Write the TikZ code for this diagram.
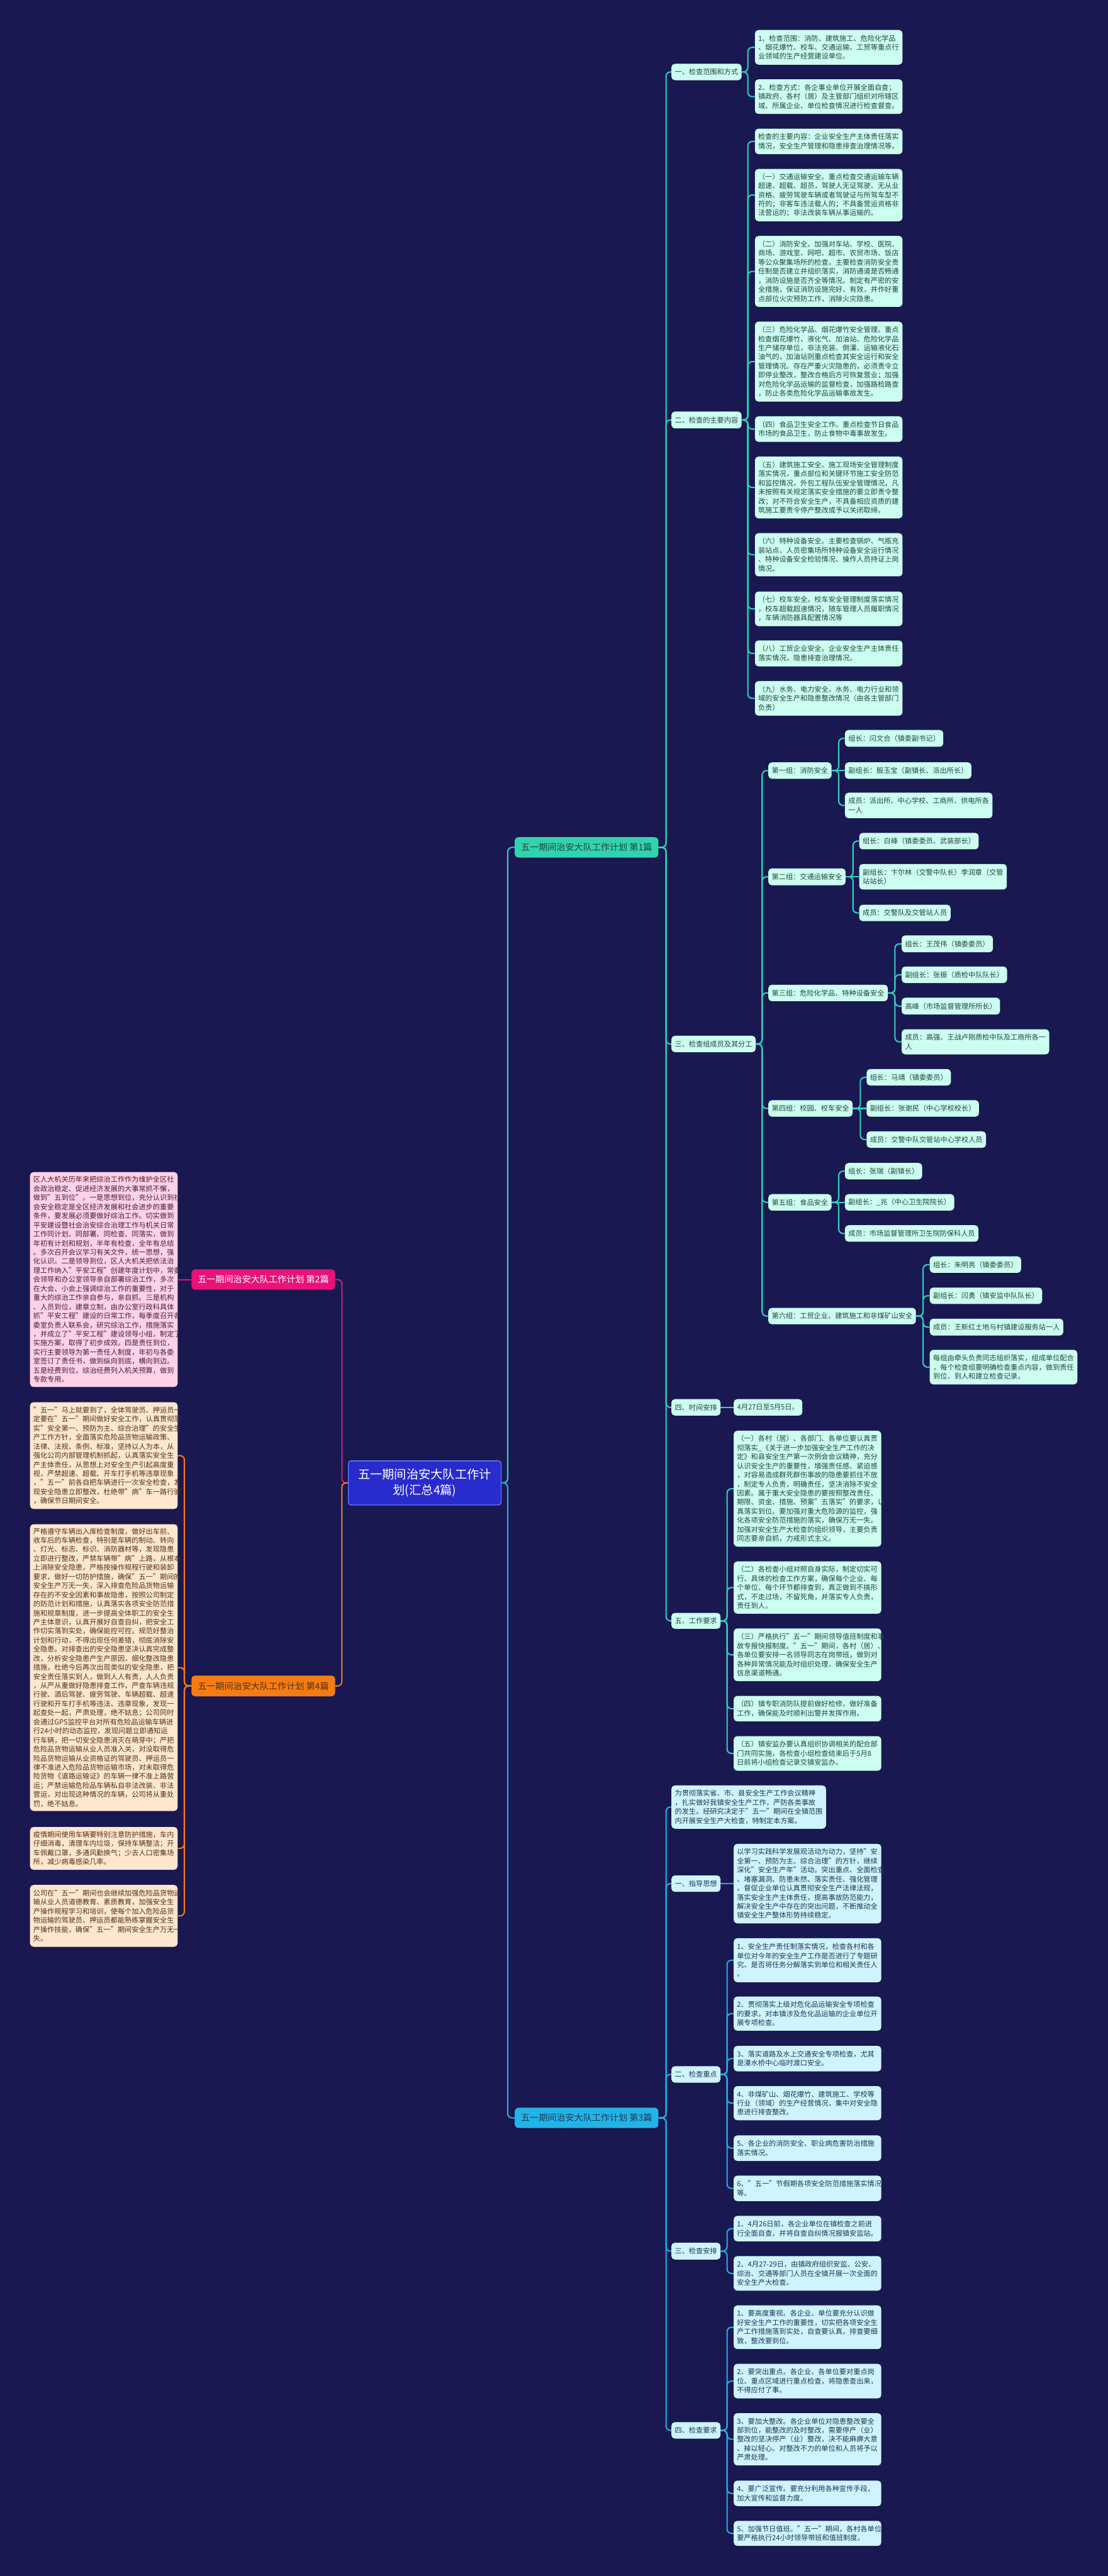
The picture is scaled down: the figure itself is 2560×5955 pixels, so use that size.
\documentclass[tikz,border=0pt]{standalone}
\usepackage{fontspec}
\setmainfont{Noto Sans CJK SC}
\definecolor{bg}{RGB}{25,24,80}
\definecolor{mint}{RGB}{204,255,240}
\definecolor{skyl}{RGB}{206,244,255}
\definecolor{pinkl}{RGB}{255,210,232}
\definecolor{peach}{RGB}{255,230,206}
\definecolor{tealc}{RGB}{42,212,190}
\definecolor{skyc}{RGB}{28,178,232}
\definecolor{magc}{RGB}{232,18,120}
\definecolor{orac}{RGB}{246,124,18}
\definecolor{tealb}{RGB}{48,212,172}
\definecolor{skyb}{RGB}{34,180,232}
\definecolor{cblue}{RGB}{40,44,204}
\definecolor{cbord}{RGB}{96,120,255}
\definecolor{txtm}{RGB}{36,66,62}
\definecolor{txtb}{RGB}{30,56,78}
\definecolor{txtp}{RGB}{70,30,50}
\definecolor{txto}{RGB}{80,50,25}
\newcommand\nodebox[6]{\pgfmathsetmacro\hh{(#5-#4)*0.5}\node[#1,minimum height=\hh pt] (#2) at (#3,#4) {#6};}
\newcommand\conR[4]{\draw[ln,#1] (#2.east) -- (#2.east -| #3) |- (#4.west);}
\newcommand\conL[4]{\draw[ln,#1] (#2.west) -- (#2.west -| #3) |- (#4.east);}
\newcommand\conS[3]{\draw[ln,#1] (#2) -- (#3);}
\tikzset{
 base/.style={rectangle, rounded corners=4pt, anchor=north west, inner xsep=4pt, inner ysep=0pt, align=left, font=\fontsize{8.125pt}{10.5pt}\selectfont},
 lf/.style={base, text width=163pt, inner xsep=3.75pt},
 mt/.style={base, fill=mint, text=txtm},
 sk/.style={base, fill=skyl, text=txtb},
 pk/.style={fill=pinkl, text=txtp},
 pc/.style={fill=peach, text=txto},
 brn/.style={rectangle, rounded corners=4pt, anchor=north west, minimum width=166pt, inner xsep=6pt, inner ysep=0pt, align=center, font=\fontsize{10.25pt}{12pt}\selectfont},
 central/.style={rectangle, rounded corners=3pt, anchor=north west, fill=cblue, draw=cbord, line width=1pt, text=white, align=center, text width=156pt, inner xsep=10.25pt, minimum height=51pt, font=\fontsize{14pt}{18.25pt}\selectfont},
 ln/.style={line width=1.5pt, rounded corners=5pt}
}
\begin{document}
\begin{tikzpicture}[x=0.5pt,y=-0.5pt]
\fill[bg] (0,0) rectangle (2560,5955);
\useasboundingbox (0,0) rectangle (2560,5955);

% spines
\coordinate (SL) at (790,0);
\coordinate (SR) at (1173,0);
\coordinate (S1) at (1539,0);
\coordinate (Sa) at (1728,0);
\coordinate (Sg) at (1761,0);
\coordinate (Sg1) at (1938,0);
\coordinate (Sg2) at (1971,0);
\coordinate (Sg3) at (2068,0);
\coordinate (Sg4) at (1988,0);
\coordinate (Sg6) at (2133,0);
\coordinate (Se) at (1680,0);
\coordinate (S4) at (426,0);

% central and branches
\node[central] (c) at (804,3376) {五一期间治安大队工作计\\划(汇总4篇)};
\nodebox{brn,fill=tealb,text=txtm}{b1}{1189}{1935}{1982}{五一期间治安大队工作计划 第1篇}
\nodebox{brn,fill=skyb,text=txtb}{b3}{1189}{4872}{4919}{五一期间治安大队工作计划 第3篇}
\nodebox{brn,fill=magc,text=white}{b2}{442}{2934}{2981}{五一期间治安大队工作计划 第2篇}
\nodebox{brn,fill=orac,text=txto}{b4}{442}{3873}{3921}{五一期间治安大队工作计划 第4篇}

% ---------- 第1篇 ----------
\nodebox{mt}{a1}{1551}{147}{185}{一、检查范围和方式}
\nodebox{mt}{a2}{1551}{951}{990}{二、检查的主要内容}
\nodebox{mt}{a3}{1551}{2394}{2432}{三、检查组成员及其分工}
\nodebox{mt}{a4}{1551}{3234}{3272}{四、时间安排}
\nodebox{mt}{a5}{1551}{3728}{3765}{五、工作要求}

\nodebox{mt,lf}{x11}{1744}{69}{149}{1、检查范围：消防、建筑施工、危险化学品\\、烟花爆竹、校车、交通运输、工贸等重点行\\业领域的生产经营建设单位。}
\nodebox{mt,lf}{x12}{1744}{183}{263}{2、检查方式：各企事业单位开展全面自查；\\镇政府、各村（居）及主管部门组织对所辖区\\域、所属企业、单位检查情况进行检查督查。}

\nodebox{mt,lf}{x20}{1744}{297}{356}{检查的主要内容：企业安全生产主体责任落实\\情况，安全生产管理和隐患排查治理情况等。}
\nodebox{mt,lf}{x21}{1744}{390}{511}{（一）交通运输安全。重点检查交通运输车辆\\超速、超载、超员，驾驶人无证驾驶、无从业\\资格、疲劳驾驶车辆或者驾驶证与所驾车型不\\符的；非客车违法载人的；不具备营运资格非\\法营运的；非法改装车辆从事运输的。}
\nodebox{mt,lf}{x22}{1744}{545}{709}{（二）消防安全。加强对车站、学校、医院、\\商场、游戏室、网吧、超市、农贸市场、饭店\\等公众聚集场所的检查。主要检查消防安全责\\任制是否建立并组织落实，消防通道是否畅通\\，消防设施是否齐全等情况。制定有严密的安\\全措施，保证消防设施完好、有效，并作好重\\点部位火灾预防工作，消除火灾隐患。}
\nodebox{mt,lf}{x23}{1744}{743}{928}{（三）危险化学品、烟花爆竹安全管理。重点\\检查烟花爆竹、液化气、加油站、危险化学品\\生产储存单位，非法充装、倒灌、运输液化石\\油气的，加油站则重点检查其安全运行和安全\\管理情况。存在严重火灾隐患的，必须责令立\\即停业整改，整改合格后方可恢复营业；加强\\对危险化学品运输的监督检查，加强路检路查\\，防止各类危险化学品运输事故发生。}
\nodebox{mt,lf}{x24}{1744}{962}{1021}{（四）食品卫生安全工作。重点检查节日食品\\市场的食品卫生，防止食物中毒事故发生。}
\nodebox{mt,lf}{x25}{1744}{1055}{1198}{（五）建筑施工安全。施工现场安全管理制度\\落实情况，重点部位和关键环节施工安全防范\\和监控情况，外包工程队伍安全管理情况，凡\\未按照有关规定落实安全措施的要立即责令整\\改；对不符合安全生产，不具备相应资质的建\\筑施工要责令停产整改或予以关闭取缔。}
\nodebox{mt,lf}{x26}{1744}{1232}{1332}{（六）特种设备安全。主要检查锅炉、气瓶充\\装站点、人员密集场所特种设备安全运行情况\\、特种设备安全检验情况、操作人员持证上岗\\情况。}
\nodebox{mt,lf}{x27}{1744}{1367}{1447}{（七）校车安全。校车安全管理制度落实情况\\，校车超载超速情况，随车管理人员履职情况\\，车辆消防器具配置情况等}
\nodebox{mt,lf}{x28}{1744}{1480}{1540}{（八）工贸企业安全。企业安全生产主体责任\\落实情况，隐患排查治理情况。}
\nodebox{mt,lf}{x29}{1744}{1574}{1654}{（九）水务、电力安全。水务、电力行业和领\\域的安全生产和隐患整改情况（由各主管部门\\负责）}

% groups
\nodebox{mt}{g1}{1775}{1762}{1800}{第一组：消防安全}
\nodebox{mt}{g2}{1775}{2007}{2046}{第二组：交通运输安全}
\nodebox{mt}{g3}{1775}{2276}{2314}{第三组：危险化学品、特种设备安全}
\nodebox{mt}{g4}{1775}{2543}{2581}{第四组：校园、校车安全}
\nodebox{mt}{g5}{1775}{2760}{2798}{第五组：食品安全}
\nodebox{mt}{g6}{1775}{3023}{3061}{第六组：工贸企业、建筑施工和非煤矿山安全}

\nodebox{mt}{g11}{1952}{1687}{1726}{组长：闫文合（镇委副书记）}
\nodebox{mt}{g12}{1952}{1762}{1800}{副组长：殷玉宝（副镇长、派出所长）}
\nodebox{mt}{g13}{1952}{1832}{1891}{成员：派出所、中心学校、工商所、供电所各\\一人}

\nodebox{mt}{g21}{1985}{1925}{1963}{组长：白峰（镇委委员、武装部长）}
\nodebox{mt}{g22}{1985}{1997}{2056}{副组长：卞尔林（交警中队长）李润章（交管\\站站长）}
\nodebox{mt}{g23}{1985}{2091}{2129}{成员：交警队及交管站人员}

\nodebox{mt}{g31}{2083}{2162}{2201}{组长：王茂伟（镇委委员）}
\nodebox{mt}{g32}{2083}{2234}{2272}{副组长：张振（质检中队队长）}
\nodebox{mt}{g33}{2083}{2306}{2345}{高峰（市场监督管理所所长）}
\nodebox{mt}{g34}{2083}{2379}{2437}{成员：高强、王战卢刚质检中队及工商所各一\\人}

\nodebox{mt}{g41}{2002}{2471}{2509}{组长：马靖（镇委委员）}
\nodebox{mt}{g42}{2002}{2543}{2581}{副组长：张谢民（中心学校校长）}
\nodebox{mt}{g43}{2002}{2615}{2653}{成员：交警中队交管站中心学校人员}

\nodebox{mt}{g51}{1952}{2688}{2726}{组长：张瑞（副镇长）}
\nodebox{mt}{g52}{1952}{2760}{2798}{副组长：\_兆（中心卫生院院长）}
\nodebox{mt}{g53}{1952}{2832}{2870}{成员：市场监督管理所卫生院防保科人员}

\nodebox{mt}{g61}{2148}{2904}{2942}{组长：朱明亮（镇委委员）}
\nodebox{mt}{g62}{2148}{2976}{3014}{副组长：闫勇（镇安监中队队长）}
\nodebox{mt}{g63}{2148}{3048}{3087}{成员：王新红土地与村镇建设服务站一人}
\nodebox{mt}{g64}{2148}{3120}{3200}{每组由牵头负责同志组织落实，组成单位配合\\，每个检查组要明确检查重点内容，做到责任\\到位、到人和建立检查记录。}

\nodebox{mt}{t1}{1695}{3234}{3272}{4月27日至5月5日。}

\nodebox{mt,lf}{e1}{1695}{3307}{3575}{（一）各村（居）、各部门、各单位要认真贯\\彻落实\_《关于进一步加强安全生产工作的决\\定》和县安全生产第一次例会会议精神，充分\\认识安全生产的重要性，增强责任感、紧迫感\\，对容易造成群死群伤事故的隐患要抓住不放\\，制定专人负责，明确责任，坚决消除不安全\\因素。属于重大安全隐患的要按照整改责任、\\期限、资金、措施、预案"五落实"的要求，认\\真落实到位。要加强对重大危险源的监控，强\\化各项安全防范措施的落实，确保万无一失。\\加强对安全生产大检查的组织领导，主要负责\\同志要亲自抓，力戒形式主义。}
\nodebox{mt,lf}{e2}{1695}{3609}{3730}{（二）各检查小组对照自身实际，制定切实可\\行、具体的检查工作方案，确保每个企业、每\\个单位、每个环节都排查到，真正做到不搞形\\式，不走过场，不留死角，并落实专人负责，\\责任到人。}
\nodebox{mt,lf}{e3}{1695}{3764}{3886}{（三）严格执行"五一"期间领导值班制度和事\\故专报快报制度。"五一"期间，各村（居）、\\各单位要安排一名领导同志在岗带班，做到对\\各种异常情况能及时组织处理，确保安全生产\\信息渠道畅通。}
\nodebox{mt,lf}{e4}{1695}{3920}{3979}{（四）镇专职消防队提前做好检修，做好准备\\工作，确保能及时顺利出警并发挥作用。}
\nodebox{mt,lf}{e5}{1695}{4013}{4093}{（五）镇安监办要认真组织协调相关的配合部\\门共同实施，各检查小组检查结束后于5月8\\日前将小组检查记录交镇安监办。}

% ---------- 第3篇 ----------
\nodebox{sk}{p0}{1551}{4127}{4227}{为贯彻落实省、市、县安全生产工作会议精神\\，扎实做好我镇安全生产工作，严防各类事故\\的发生。经研究决定于"五一"期间在全镇范围\\内开展安全生产大检查，特制定本方案。}
\nodebox{sk}{q1}{1551}{4335}{4373}{一、指导思想}
\nodebox{sk}{q2}{1551}{4776}{4814}{二、检查重点}
\nodebox{sk}{q3}{1551}{5184}{5223}{三、检查安排}
\nodebox{sk}{q4}{1551}{5599}{5637}{四、检查要求}

\nodebox{sk,lf}{r1}{1695}{4262}{4446}{以学习实践科学发展观活动为动力，坚持"安\\全第一、预防为主、综合治理"的方针，继续\\深化"安全生产年"活动。突出重点、全面检查\\、堵塞漏洞、防患未然、落实责任、强化管理\\。督促企业单位认真贯彻安全生产法律法规，\\落实安全生产主体责任，提高事故防范能力，\\解决安全生产中存在的突出问题，不断推动全\\镇安全生产整体形势持续稳定。}

\nodebox{sk,lf}{r21}{1695}{4480}{4582}{1、安全生产责任制落实情况，检查各村和各\\单位对今年的安全生产工作是否进行了专题研\\究、是否将任务分解落实到单位和相关责任人\\。}
\nodebox{sk,lf}{r22}{1695}{4615}{4694}{2、贯彻落实上级对危化品运输安全专项检查\\的要求，对本镇涉及危化品运输的企业单位开\\展专项检查。}
\nodebox{sk,lf}{r23}{1695}{4729}{4788}{3、落实道路及水上交通安全专项检查，尤其\\是漫水桥中心临时渡口安全。}
\nodebox{sk,lf}{r24}{1695}{4822}{4901}{4、非煤矿山、烟花爆竹、建筑施工、学校等\\行业（领域）的生产经营情况，集中对安全隐\\患进行排查整改。}
\nodebox{sk,lf}{r25}{1695}{4936}{4995}{5、各企业的消防安全、职业病危害防治措施\\落实情况。}
\nodebox{sk,lf}{r26}{1695}{5029}{5088}{6、"五一"节假期各项安全防范措施落实情况\\等。}

\nodebox{sk,lf}{r31}{1695}{5122}{5181}{1、4月26日前，各企业单位在镇检查之前进\\行全面自查，并将自查自纠情况报镇安监站。}
\nodebox{sk,lf}{r32}{1695}{5215}{5295}{2、4月27-29日，由镇政府组织安监、公安、\\综治、交通等部门人员在全镇开展一次全面的\\安全生产大检查。}

\nodebox{sk,lf}{r41}{1695}{5329}{5430}{1、要高度重视。各企业、单位要充分认识做\\好安全生产工作的重要性，切实把各项安全生\\产工作措施落到实处，自查要认真，排查要细\\致，整改要到位。}
\nodebox{sk,lf}{r42}{1695}{5464}{5544}{2、要突出重点。各企业、各单位要对重点岗\\位、重点区域进行重点检查，将隐患查出来，\\不得应付了事。}
\nodebox{sk,lf}{r43}{1695}{5578}{5699}{3、要加大整改。各企业单位对隐患整改要全\\部到位，能整改的及时整改，需要停产（业）\\整改的坚决停产（业）整改，决不能麻痹大意\\、掉以轻心。对整改不力的单位和人员将予以\\严肃处理。}
\nodebox{sk,lf}{r44}{1695}{5734}{5793}{4、要广泛宣传。要充分利用各种宣传手段，\\加大宣传和监督力度。}
\nodebox{sk,lf}{r45}{1695}{5827}{5885}{5、加强节日值班。"五一"期间，各村各单位\\要严格执行24小时领导带班和值班制度。}

% ---------- 第2篇 / 第4篇 ----------
\nodebox{base,lf,pk}{l2}{69}{2709}{3206}{区人大机关历年来把综治工作作为维护全区社\\会政治稳定、促进经济发展的大事常抓不懈，\\做到"五到位"。一是思想到位，充分认识到社\\会安全稳定是全区经济发展和社会进步的重要\\条件，要发展必须要做好综治工作。切实做到\\平安建设暨社会治安综合治理工作与机关日常\\工作同计划、同部署、同检查、同落实，做到\\年初有计划和规划，半年有检查，全年有总结\\。多次召开会议学习有关文件，统一思想，强\\化认识。二是领导到位，区人大机关把依法治\\理工作纳入"平安工程"创建年度计划中，常委\\会领导和办公室领导亲自部署综治工作，多次\\在大会、小会上强调综治工作的重要性，对于\\重大的综治工作亲自参与，亲自抓。三是机构\\、人员到位，建章立制，由办公室行政科具体\\抓"平安工程"建设的日常工作，每季度召开各\\委室负责人联系会，研究综治工作，措施落实\\，并成立了"平安工程"建设领导小组，制定了\\实施方案，取得了初步成效。四是责任到位，\\实行主要领导为第一责任人制度，年初与各委\\室签订了责任书，做到纵向到底，横向到边。\\五是经费到位，综治经费列入机关预算，做到\\专款专用。}

\nodebox{base,lf,pc}{l4a}{69}{3241}{3488}{"五一"马上就要到了，全体驾驶员、押运员一\\定要在"五一"期间做好安全工作，认真贯彻落\\实"安全第一、预防为主、综合治理"的安全生\\产工作方针，全面落实危险品货物运输政策、\\法律、法规、条例、标准，坚持以人为本，从\\强化公司内部管理机制抓起，认真落实安全生\\产主体责任，从思想上对安全生产引起高度重\\视，严禁超速、超载、开车打手机等违章现象\\，"五一"前各自把车辆进行一次安全检查，发\\现安全隐患立即整改，杜绝带"病"车一路行驶\\，确保节日期间安全。}
\nodebox{base,lf,pc}{l4b}{69}{3523}{4186}{严格遵守车辆出入库检查制度，做好出车前、\\收车后的车辆检查，特别是车辆的制动、转向\\、灯光、标志、标识、消防器材等，发现隐患\\立即进行整改，严禁车辆带"病"上路，从根本\\上消除安全隐患，严格按操作规程行驶和装卸\\要求，做好一切防护措施，确保"五一"期间的\\安全生产万无一失，深入排查危险品货物运输\\存在的不安全因素和事故隐患，按照公司制定\\的防范计划和措施，认真落实各项安全防范措\\施和规章制度，进一步提高全体职工的安全生\\产主体意识，认真开展好自查自纠，把安全工\\作切实落到实处，确保能控可控。规范好整治\\计划和行动，不得出现任何差错，彻底消除安\\全隐患。对排查出的安全隐患坚决认真完成整\\改，分析安全隐患产生产原因，细化整改隐患\\措施，杜绝今后再次出现类似的安全隐患，把\\安全责任落实到人，做到人人有责，人人负责\\，从严从重做好隐患排查工作，严查车辆违规\\行驶、酒后驾驶、疲劳驾驶、车辆超载、超速\\行驶和开车打手机等违法、违章现象，发现一\\起查处一起，严肃处理，绝不姑息；公司同时\\会通过GPS监控平台对所有危险品运输车辆进\\行24小时的动态监控，发现问题立即通知运\\行车辆，把一切安全隐患消灭在萌芽中；严把\\危险品货物运输从业人员准入关，对没取得危\\险品货物运输从业资格证的驾驶员、押运员一\\律不准进入危险品货物运输市场，对未取得危\\险货物《道路运输证》的车辆一律不准上路营\\运；严禁运输危险品车辆私自非法改装、非法\\营运，对出现这种情况的车辆，公司将从重处\\罚，绝不姑息。}
\nodebox{base,lf,pc}{l4c}{69}{4223}{4322}{疫情期间使用车辆要特别注意防护措施，车内\\仔细消毒，清理车内垃圾，保持车辆整洁；开\\车佩戴口罩，多通风勤换气；少去人口密集场\\所，减少病毒感染几率。}
\nodebox{base,lf,pc}{l4d}{69}{4357}{4500}{公司在"五一"期间也会继续加强危险品货物运\\输从业人员道德教育、素质教育，加强安全生\\产操作规程学习和培训，使每个加入危险品货\\物运输的驾驶员、押运员都能熟练掌握安全生\\产操作技能，确保"五一"期间安全生产万无一\\失。}

% ---------- connectors ----------
\conL{magc}{c}{SL}{b2}
\conL{orac}{c}{SL}{b4}
\conR{tealc}{c}{SR}{b1}
\conR{skyc}{c}{SR}{b3}

\conS{magc}{b2.west}{l2.east}
\conL{orac}{b4}{S4}{l4a}
\conL{orac}{b4}{S4}{l4b}
\conL{orac}{b4}{S4}{l4c}
\conL{orac}{b4}{S4}{l4d}

\foreach \k in {a1,a2,a3,a4,a5} {\conR{tealc}{b1}{S1}{\k}}
\foreach \k in {x11,x12} {\conR{tealc}{a1}{Sa}{\k}}
\foreach \k in {x20,x21,x22,x23,x24,x25,x26,x27,x28,x29} {\conR{tealc}{a2}{Sa}{\k}}
\foreach \k in {g1,g2,g3,g4,g5,g6} {\conR{tealc}{a3}{Sg}{\k}}
\conR{tealc}{g1}{Sg1}{g11}
\conS{tealc}{g1.east}{g12.west}
\conR{tealc}{g1}{Sg1}{g13}
\conR{tealc}{g2}{Sg2}{g21}
\conS{tealc}{g2.east}{g22.west}
\conR{tealc}{g2}{Sg2}{g23}
\foreach \k in {g31,g32,g33,g34} {\conR{tealc}{g3}{Sg3}{\k}}
\conR{tealc}{g4}{Sg4}{g41}
\conS{tealc}{g4.east}{g42.west}
\conR{tealc}{g4}{Sg4}{g43}
\conR{tealc}{g5}{Sg1}{g51}
\conS{tealc}{g5.east}{g52.west}
\conR{tealc}{g5}{Sg1}{g53}
\foreach \k in {g61,g62,g63,g64} {\conR{tealc}{g6}{Sg6}{\k}}
\conS{tealc}{a4.east}{t1.west}
\foreach \k in {e1,e2,e3,e4,e5} {\conR{tealc}{a5}{Se}{\k}}

\foreach \k in {p0,q1,q2,q3,q4} {\conR{skyc}{b3}{S1}{\k}}
\conS{skyc}{q1.east}{r1.west}
\foreach \k in {r21,r22,r23,r24,r25,r26} {\conR{skyc}{q2}{Se}{\k}}
\foreach \k in {r31,r32} {\conR{skyc}{q3}{Se}{\k}}
\foreach \k in {r41,r42,r43,r44,r45} {\conR{skyc}{q4}{Se}{\k}}
\end{tikzpicture}
\end{document}
